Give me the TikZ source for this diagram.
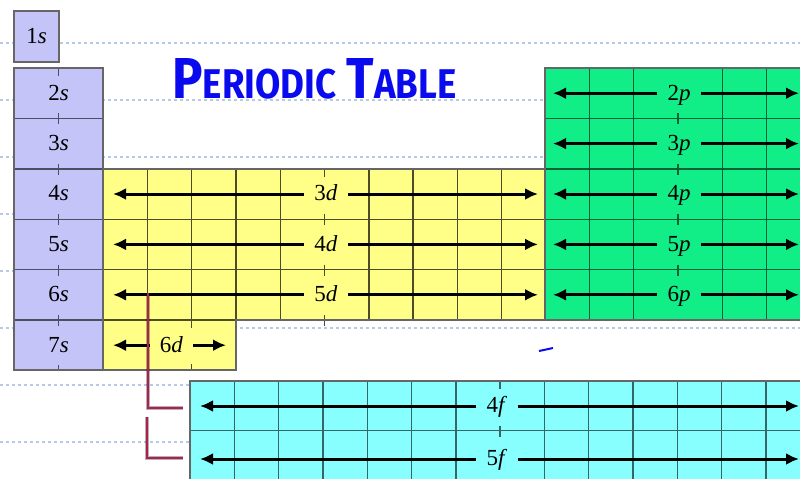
\documentclass[tikz,border=0pt]{standalone}
\usepackage{fontspec}
\setmainfont{Liberation Serif}
\newfontfamily\handfont{Fira Sans}
\usepackage{graphicx}
\usetikzlibrary{arrows.meta}

\definecolor{sblock}{HTML}{C4C4F8}
\definecolor{dblock}{HTML}{FFFF88}
\definecolor{pblock}{HTML}{11EE88}
\definecolor{fblock}{HTML}{88FFFF}
\definecolor{notebook}{HTML}{B4CAE6}
\definecolor{bracket}{HTML}{B0204C}
\definecolor{ink}{HTML}{0A0AEE}

\begin{document}
\begin{tikzpicture}[x=0.5pt, y=-0.5pt,
  lbl/.style={inner ysep=1pt, inner xsep=5pt, text height=6.8pt, text depth=0pt, font=\fontsize{11.5}{13}\selectfont},
  arr/.style={-{Latex[length=6.5pt,width=6pt]}, line width=1.5pt},
  edge/.style={draw=gray!80!black, line width=1pt},
  sgrid/.style={draw=black!60!sblock, line width=0.7pt},
  dgrid/.style={draw=black!70!dblock, line width=0.7pt},
  pgrid/.style={draw=black!60!pblock, line width=0.7pt},
  fgrid/.style={draw=black!60!fblock, line width=0.7pt},
  rule/.style={draw=notebook, line width=1pt, dash pattern=on 1.6pt off 1.4pt},
  brk/.style={draw=bracket, line width=1.1pt},
  brkshadow/.style={draw=black, opacity=0.3, line width=2pt}
]
\useasboundingbox (0,0) rectangle (800,478);
\clip (0,0) rectangle (800,478);
\fill[white] (0,0) rectangle (800,478);

% notebook rules
\foreach \y in {43,100,...,442} \draw[rule] (0,\y) -- (800,\y);

% title
\node[anchor=base west, inner sep=0pt, text=ink] (title) at (172,98)
  {\resizebox{142pt}{20pt}{\handfont\bfseries{\fontsize{20}{20}\selectfont P}{\fontsize{14.4}{15}\selectfont ERIODIC}\hspace{4pt}{\fontsize{20}{20}\selectfont T}{\fontsize{14.4}{15}\selectfont ABLE}}};

% s block
\node[lbl, fill=sblock, edge, minimum width=22.5pt, minimum height=25.5pt] (s1) at (36.5,36.5) {1\textit{s}};
\fill[sblock] (14,68) rectangle (103,370.4);
\foreach \y in {118.4,168.8,219.2,269.6,320} {
  \draw[sgrid] (14,\y) -- (103,\y);
  \draw[sgrid] (58.5,\y-5) -- (58.5,\y+6);
}
\draw[sgrid] (58.5,68) -- ++(0,8) (58.5,370.4) -- ++(0,-5);
\draw[edge] (14,68) rectangle (103,370.4);
\foreach \n/\y in {2/93.2,3/143.6,4/194,5/244.4,6/294.8,7/345.2}
  \node[lbl] (s\n) at (58.5,\y) {\n\textit{s}};

% d block
\fill[dblock] (103,168.8) rectangle (546,320) (103,320) rectangle (236,370.4);
\foreach \k in {1,2,3,4,6,7,8,9} \draw[dgrid] (103+44.3*\k,168.8) -- (103+44.3*\k,320);
\foreach \y in {219.2,269.6,320} {
  \draw[dgrid] (103,\y) -- (546,\y);
  \draw[dgrid] (324.5,\y-5) -- (324.5,\y+6);
}
\draw[dgrid] (324.5,168.8) -- ++(0,8) (147.3,320) -- (147.3,370.4)
  (191.6,320) -- ++(0,8) (191.6,370.4) -- ++(0,-6);
\draw[edge] (103,168.8) -- (546,168.8) -- (546,320) -- (236,320) -- (236,370.4) -- (103,370.4) -- cycle;

% p block
\fill[pblock] (545,68) rectangle (810,320);
\foreach \k in {1,2,4,5} \draw[pgrid] (545+44.3*\k,68) -- (545+44.3*\k,320);
\foreach \y in {118.4,168.8,219.2,269.6} {
  \draw[pgrid] (545,\y) -- (810,\y);
  \draw[pgrid] (677.9,\y-5) -- (677.9,\y+6);
}
\draw[edge] (545,68) rectangle (810,320);

% f block
\fill[fblock] (190,381) rectangle (810,490);
\foreach \k in {1,...,6,8,9,...,13} \draw[fgrid] (190+44.3*\k,381) -- (190+44.3*\k,490);
\draw[fgrid] (190,430.5) -- (810,430.5) (500.1,425.5) -- (500.1,436.5) (500.1,381) -- ++(0,8);
\draw[edge] (190,381) rectangle (810,490);

% d rows
\foreach \n/\y in {3/194,4/244.4,5/294.8} {
  \node[lbl] (d\n) at (326,\y) {\n\textit{d}};
  \coordinate (d\n-l) at (113,\y);
  \coordinate (d\n-r) at (538,\y);
  \draw[arr] (d\n) -- (d\n-l);
  \draw[arr] (d\n) -- (d\n-r);
}
\node[lbl] (d6) at (171.5,345.2) {6\textit{d}};
\coordinate (d6-l) at (113,345.2);
\coordinate (d6-r) at (226,345.2);
\draw[arr] (d6) -- (d6-l);
\draw[arr] (d6) -- (d6-r);

% p rows
\foreach \n/\y in {2/93.2,3/143.6,4/194,5/244.4,6/294.8} {
  \node[lbl] (p\n) at (679,\y) {\n\textit{p}};
  \coordinate (p\n-l) at (553,\y);
  \coordinate (p\n-r) at (799,\y);
  \draw[arr] (p\n) -- (p\n-l);
  \draw[arr] (p\n) -- (p\n-r);
}

% f rows
\foreach \n/\y in {4/406,5/459} {
  \node[lbl] (f\n) at (497,\y) {\n\textit{f}};
  \coordinate (f\n-l) at (200,\y);
  \coordinate (f\n-r) at (799,\y);
  \draw[arr] (f\n) -- (f\n-l);
  \draw[arr] (f\n) -- (f\n-r);
}

% bracket
\coordinate (b1) at (148,293);
\coordinate (b2) at (183,408);
\coordinate (b3) at (147,417);
\coordinate (b4) at (183,458);
\draw[brkshadow, xshift=-2pt, yshift=-1.5pt] (b1) |- (b2) (b3) |- (b4);
\draw[brk] (b1) |- (b2);
\draw[brk] (b3) |- (b4);

\draw[ink, line width=1pt] (539,351) -- (553,348);
\end{tikzpicture}
\end{document}
